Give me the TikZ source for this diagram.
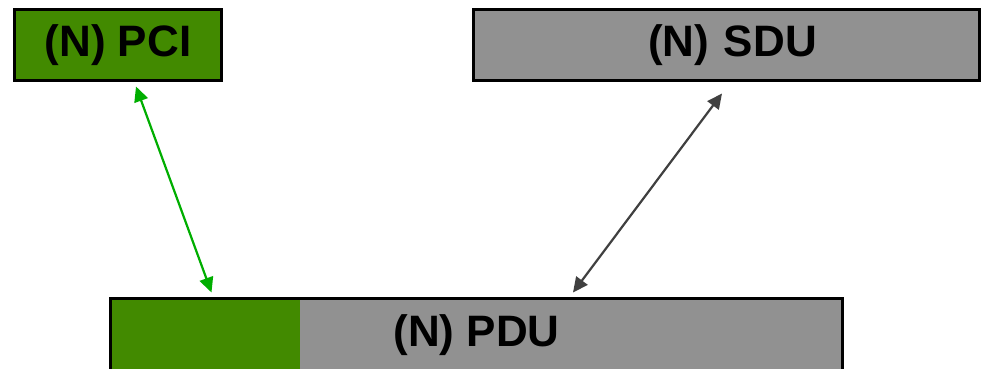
\documentclass[tikz,border=0pt]{standalone}
\usepackage{fontspec}
\setmainfont{Liberation Sans}
\usetikzlibrary{arrows.meta}
\definecolor{pcigreen}{HTML}{428A00}
\definecolor{linkgreen}{HTML}{00AE00}
\definecolor{unitgray}{HTML}{919191}
\definecolor{linkgray}{HTML}{404040}
\begin{document}
\begin{tikzpicture}[x=1pt,y=-1pt,
  unitbox/.style={draw=black, line width=3pt, rectangle, inner sep=0pt,
    font=\fontsize{44}{50}\selectfont\bfseries},
  link/.style={line width=2.2pt, {Triangle[length=15pt,width=14pt]}-{Triangle[length=15pt,width=14pt]}}]
  \fill[white] (0,0) rectangle (983,368);
  \useasboundingbox (0,0) rectangle (983,368);
  \clip (0,0) rectangle (983,368);

  % protocol control information
  \node[unitbox, fill=pcigreen, minimum width=207pt, minimum height=71pt] (pci) at (118,45) {(N) PCI};
  % service data unit (label sits a little right of centre)
  \node[unitbox, fill=unitgray, minimum width=506pt, minimum height=71pt,
    text width=494pt, align=center] (sdu) at (726.5,45) {\hspace*{12pt}(N) SDU};
  % protocol data unit: header part in green, data part in gray
  \node[unitbox, fill=unitgray, minimum width=732pt, minimum height=72.5pt,
    path picture={\fill[pcigreen] (path picture bounding box.south west) rectangle ([xshift=189pt]path picture bounding box.north west);}]
    (pdu) at (476.5,334.75) {(N) PDU};

  \draw[link, draw=linkgreen, fill=linkgreen]
    ([shift={(18,4.5)}]pci.south) -- ([shift={(102.5,-4.5)}]pdu.north west);
  \draw[link, draw=linkgray, fill=linkgray]
    ([shift={(-4.5,11.5)}]sdu.south) -- ([shift={(96.5,-4.5)}]pdu.north);
\end{tikzpicture}
\end{document}
